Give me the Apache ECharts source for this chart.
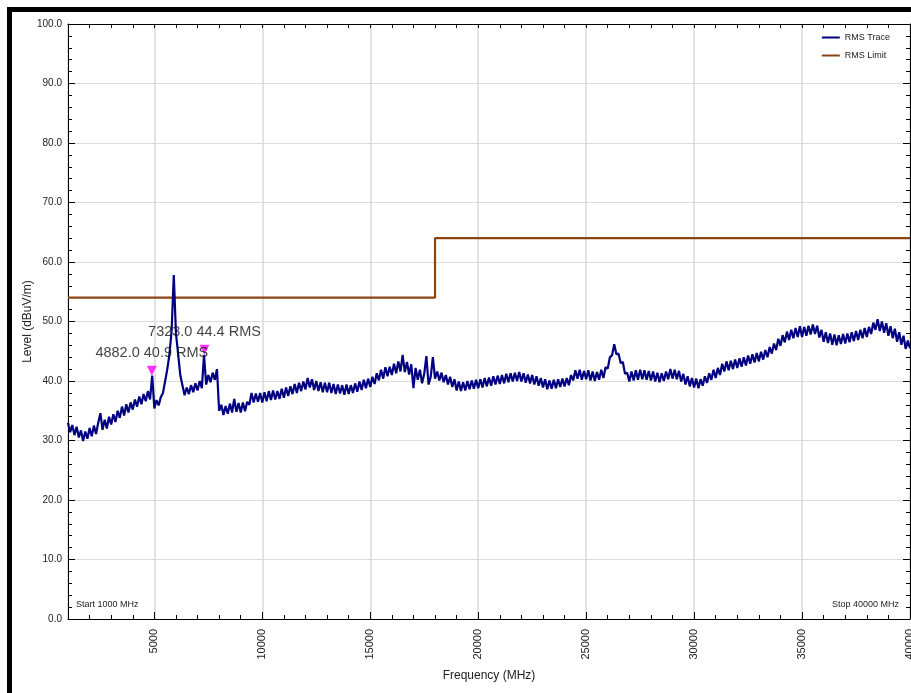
<!DOCTYPE html>
<html>
<head>
    <meta charset="utf-8">
    <title>RMS Trace vs Limit</title>
    <script src="https://cdn.jsdelivr.net/npm/echarts@6.0.0/dist/echarts.min.js"></script>
    <style>
        body { margin: 0; background: #fff; }
        #chart { width: 911px; height: 693px; }
    </style>
</head>
<body>
    <div id="chart"></div>
    <script>
        // 扫描起点与步进 (MHz)
        var traceStart = 1000;
        var traceStep = 100;

        // 测量电平 (dBuV/m)，每行 1000 MHz
        var traceLevel = [
            33.0, 31.4, 32.6, 30.9, 32.3, 30.5, 31.7, 29.9, 31.5, 30.3,
            32.1, 30.7, 32.5, 31.1, 33.0, 34.6, 31.8, 33.5, 32.0, 34.0,
            32.7, 34.4, 33.1, 35.0, 33.8, 35.7, 34.2, 36.1, 34.7, 36.4,
            35.2, 36.9, 35.7, 37.4, 36.1, 37.8, 36.6, 38.3, 36.9, 40.9,
            35.4, 36.8, 35.9, 37.3, 38.0, 40.0, 42.0, 44.5, 48.5, 57.8,
            48.0, 44.6, 41.0, 39.3, 37.6, 38.9, 37.8, 39.3, 38.1, 39.6,
            38.4, 40.0, 38.8, 44.4, 39.4, 41.0, 39.8, 41.4, 40.2, 42.0,
            35.0, 36.0, 34.3, 35.8, 34.5, 36.2, 34.7, 37.0, 34.8, 36.3,
            34.7, 36.4, 34.9, 36.5, 36.0, 38.0, 36.4, 37.9, 36.5, 38.0,
            36.4, 38.1, 36.6, 38.3, 36.8, 38.4, 36.9, 38.3, 37.0, 38.7,
            37.2, 38.9, 37.5, 39.1, 37.8, 39.5, 38.0, 39.7, 38.3, 39.9,
            38.6, 40.5, 38.9, 40.3, 38.5, 40.0, 38.3, 39.8, 38.1, 39.7,
            38.1, 39.7, 38.0, 39.5, 37.8, 39.4, 37.9, 39.3, 37.7, 39.4,
            37.8, 39.3, 38.0, 39.6, 38.2, 39.9, 38.5, 40.2, 38.8, 40.4,
            39.0, 40.7, 39.5, 41.3, 40.1, 41.9, 40.4, 42.3, 40.8, 42.4,
            41.0, 42.9, 41.3, 43.3, 41.6, 44.4, 41.5, 43.2, 41.1, 42.8,
            38.8, 42.2, 40.2, 41.9, 39.6, 41.2, 44.2, 39.4, 40.7, 44.0,
            40.4, 41.6, 40.1, 41.4, 39.8, 41.0, 39.4, 40.7, 39.0, 40.3,
            38.4, 39.9, 38.3, 39.8, 38.4, 40.0, 38.6, 40.1, 38.7, 40.2,
            38.8, 40.3, 38.9, 40.5, 39.1, 40.6, 39.2, 40.8, 39.4, 40.9,
            39.5, 41.0, 39.6, 41.2, 39.8, 41.3, 39.9, 41.4, 40.0, 41.5,
            39.9, 41.3, 39.7, 41.1, 39.6, 41.0, 39.4, 40.8, 39.2, 40.5,
            38.9, 40.3, 38.6, 40.1, 38.7, 40.2, 38.8, 40.3, 39.0, 40.4,
            39.1, 40.5, 39.3, 41.0, 40.1, 41.8, 40.4, 41.9, 40.2, 41.7,
            40.3, 41.8, 40.1, 41.6, 40.0, 41.5, 40.2, 41.9, 40.5, 42.3,
            42.1, 44.0, 44.3, 46.2, 44.5, 44.6, 43.0, 43.2, 41.2, 41.4,
            39.9, 41.6, 40.1, 41.8, 40.2, 41.9, 40.3, 41.8, 40.2, 41.7,
            40.1, 41.6, 39.9, 41.4, 39.8, 41.3, 40.0, 41.6, 40.3, 42.0,
            40.4, 41.9, 40.3, 41.7, 39.9, 41.2, 39.4, 40.8, 39.1, 40.5,
            38.9, 40.4, 38.8, 40.3, 39.2, 40.8, 39.7, 41.3, 40.2, 41.9,
            40.5, 42.2, 41.0, 42.9, 41.6, 43.3, 41.8, 43.4, 42.0, 43.6,
            42.2, 43.8, 42.4, 44.0, 42.6, 44.3, 42.9, 44.5, 43.1, 44.7,
            43.3, 44.9, 43.6, 45.2, 44.0, 45.7, 44.6, 46.3, 45.2, 47.1,
            45.9, 47.7, 46.5, 48.3, 46.9, 48.6, 47.2, 48.9, 47.4, 49.2,
            47.4, 49.1, 47.6, 49.3, 47.8, 49.5, 47.9, 49.3, 47.3, 48.6,
            46.6, 48.2, 46.4, 48.0, 46.1, 47.8, 46.0, 47.7, 46.2, 47.9,
            46.3, 48.0, 46.5, 48.2, 46.7, 48.4, 46.9, 48.6, 47.2, 48.9,
            47.4, 49.1, 47.9, 49.8, 48.6, 50.4, 48.4, 50.0, 48.1, 49.7,
            47.6, 49.2, 47.2, 48.8, 46.6, 48.2, 46.1, 47.6, 45.4, 46.8,
            45.5
        ];

        // 限值线
        var limitFreq = [1000, 18000, 18000, 40000];
        var limitLevel = [54, 54, 64, 64];

        // 标记点
        var markerFreq = [4882, 7323];
        var markerLevel = [40.9, 44.4];
        var markerText = ['4882.0 40.9 RMS', '7323.0 44.4 RMS'];

        var font = 'Liberation Sans, Arial, sans-serif';

        var traceData = traceLevel.map(function (v, i) { return [traceStart + i * traceStep, v]; });
        var limitData = limitFreq.map(function (f, i) { return [f, limitLevel[i]]; });
        var markerData = markerFreq.map(function (f, i) { return [f, markerLevel[i]]; });

        var chart = echarts.init(document.getElementById('chart'));

        chart.setOption({
            animation: false,
            backgroundColor: '#fff',
            grid: { left: 68, right: 1, top: 24, bottom: 74, containLabel: false, outerBoundsMode: 'none' },
            legend: {
                orient: 'vertical',
                right: 16,
                top: 28,
                itemWidth: 18,
                itemHeight: 2,
                itemGap: 9,
                textStyle: { fontFamily: font, fontSize: 9, color: '#222' },
                data: [
                    { name: 'RMS Trace', icon: 'rect' },
                    { name: 'RMS Limit', icon: 'rect' }
                ]
            },
            xAxis: [
                {
                    // 主刻度 + 标签
                    type: 'value',
                    min: 1000,
                    max: 40000,
                    splitNumber: 8,
                    minInterval: 5000,
                    maxInterval: 5000,
                    name: 'Frequency (MHz)',
                    nameLocation: 'middle',
                    nameGap: 51,
                    nameMoveOverlap: false,
                    nameTextStyle: { fontFamily: font, fontSize: 12, color: '#222' },
                    axisLine: { lineStyle: { color: '#000', width: 1 } },
                    axisTick: { inside: true, length: 7, lineStyle: { color: '#000' } },
                    axisLabel: {
                        rotate: 90,
                        margin: 10,
                        showMinLabel: false,
                        fontFamily: font,
                        fontSize: 11,
                        color: '#222',
                        formatter: function (v) { return String(v); }
                    },
                    splitLine: { show: true, lineStyle: { color: '#d8d8d8', width: 1.5 } }
                },
                {
                    // 次刻度
                    type: 'value',
                    position: 'bottom',
                    min: 1000,
                    max: 40000,
                    interval: 1000,
                    axisLine: { show: false },
                    axisTick: { inside: true, length: 4, lineStyle: { color: '#000' } },
                    axisLabel: { show: false },
                    splitLine: { show: false }
                },
                {
                    // 顶部边框
                    type: 'value',
                    position: 'top',
                    min: 1000,
                    max: 40000,
                    interval: 1000,
                    axisLine: { show: true, onZero: false, lineStyle: { color: '#000', width: 1 } },
                    axisTick: { inside: true, length: 4, lineStyle: { color: '#000' } },
                    axisLabel: { show: false },
                    splitLine: { show: false }
                }
            ],
            yAxis: [
                {
                    type: 'value',
                    min: 0,
                    max: 100,
                    interval: 10,
                    name: 'Level (dBuV/m)',
                    nameLocation: 'middle',
                    nameGap: 34,
                    nameMoveOverlap: false,
                    nameTextStyle: { fontFamily: font, fontSize: 12, color: '#222' },
                    axisLine: { show: true, lineStyle: { color: '#000', width: 1 } },
                    axisTick: { show: true, inside: true, length: 7, lineStyle: { color: '#000' } },
                    minorTick: { show: true, splitNumber: 5, length: 4, lineStyle: { color: '#000' } },
                    axisLabel: {
                        margin: 6,
                        fontFamily: font,
                        fontSize: 10,
                        color: '#222',
                        formatter: function (v) { return v.toFixed(1); }
                    },
                    splitLine: { show: true, lineStyle: { color: '#dcdcdc', width: 1 } }
                },
                {
                    // 右侧边框
                    type: 'value',
                    position: 'right',
                    min: 0,
                    max: 100,
                    interval: 10,
                    axisLine: { show: true, onZero: false, lineStyle: { color: '#000', width: 1 } },
                    axisTick: { show: true, inside: true, length: 7, lineStyle: { color: '#000' } },
                    minorTick: { show: true, splitNumber: 5, length: 4, lineStyle: { color: '#000' } },
                    axisLabel: { show: false },
                    splitLine: { show: false }
                }
            ],
            series: [
                {
                    name: 'RMS Trace',
                    type: 'line',
                    data: traceData,
                    showSymbol: false,
                    color: '#000080',
                    lineStyle: { color: '#000080', width: 2.2 },
                    z: 3
                },
                {
                    name: 'RMS Limit',
                    type: 'line',
                    data: limitData,
                    showSymbol: false,
                    color: '#8b4513',
                    lineStyle: { color: '#8b4513', width: 2.2 },
                    z: 2
                },
                {
                    name: 'Markers',
                    type: 'scatter',
                    data: markerData,
                    symbol: 'path://M0,0 L10,0 L5,10 Z',
                    symbolSize: [10, 10],
                    symbolOffset: [0, -5],
                    itemStyle: { color: '#ff00ff' },
                    label: {
                        show: true,
                        position: 'top',
                        distance: 5,
                        fontFamily: font,
                        fontSize: 14.5,
                        color: '#111',
                        formatter: function (p) { return markerText[p.dataIndex]; }
                    },
                    z: 5
                }
            ],
            graphic: [
                {
                    type: 'text',
                    left: 76,
                    top: 600,
                    style: { text: 'Start 1000 MHz', fontFamily: font, fontSize: 9, fill: '#222' }
                },
                {
                    type: 'text',
                    right: 12,
                    top: 600,
                    style: { text: 'Stop 40000 MHz', fontFamily: font, fontSize: 9, fill: '#222' }
                },
                {
                    // 外框 (左、上)
                    type: 'rect',
                    shape: { x: 9.5, y: 9.5, width: 2000, height: 2000 },
                    style: { fill: 'none', stroke: '#000', lineWidth: 5 },
                    z: 100
                }
            ]
        });
    </script>
</body>
</html>
